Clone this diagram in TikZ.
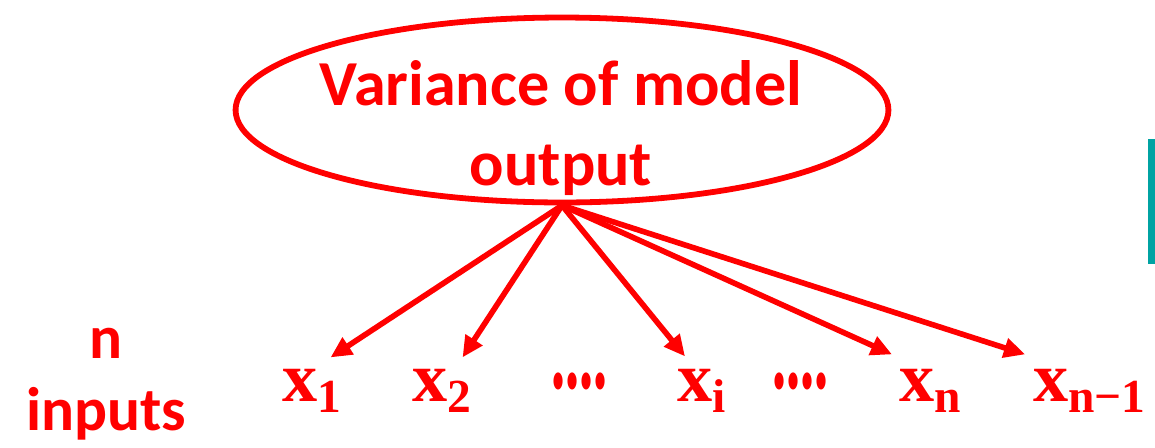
\documentclass[tikz,border=0pt]{standalone}
\usepackage{fontspec}
\usepackage{graphicx}
\setmainfont{Carlito}
\newfontfamily\labfont{Liberation Serif}
\usetikzlibrary{calc, positioning, shapes.geometric, arrows.meta}
\definecolor{outred}{RGB}{255,0,0}
\definecolor{barteal}{RGB}{0,163,163}
\newcommand{\xlab}[1]{x\raisebox{-6.8pt}{\fontsize{27}{27}\selectfont #1}}
\newcommand{\vdotsrow}{\raisebox{7.4pt}{\scalebox{0.8}[1.5]{....}}}

\begin{document}
\begin{tikzpicture}[x=0.02cm, y=-0.02cm,
  outbox/.style={ellipse, draw=outred, line width=3.3pt,
    minimum width=13.06cm, minimum height=3.7cm, inner sep=0pt},
  outtext/.style={text=outred, font=\fontsize{36.5}{45.5}\selectfont\bfseries,
    align=center, inner sep=0pt},
  inlab/.style={text=outred, font=\labfont\fontsize{40}{40}\selectfont\bfseries,
    inner sep=0pt, anchor=base west},
  arr/.style={draw=outred, line width=3.2pt, -{Triangle[length=12pt, width=11pt]}}]
\useasboundingbox (0,0) rectangle (1155,447);

% model output
\node[outbox] (out) at (562,110) {};
\node[outtext] (outlbl) at (561,128) {Variance of model\\output};

% inputs
\node[outtext, font=\fontsize{35}{41}\selectfont\bfseries] (ninp) at (106,384) {n\\inputs};
\node[inlab] (x1) at (282,401) {\xlab{1}};
\node[inlab] (x2) at (412,401) {\xlab{2}};
\node[inlab] (dots1) at (551,401) {\vdotsrow};
\node[inlab] (xi) at (677,401) {\xlab{i}};
\node[inlab] (dots2) at (772,401) {\vdotsrow};
\node[inlab] (xn) at (899,401) {\xlab{n}};
\node[inlab] (xnm) at (1033,401) {\xlab{n−1}};

\draw[arr] (out.south) -- ($(x1.north east)+(-11,-11)$);
\draw[arr] (out.south) -- ($(x2.north east)+(-9,-11)$);
\draw[arr] (out.south) -- ($(xi.north west)+(8,-12)$);
\draw[arr] (out.south) -- ($(xn.north west)+(-7,-14)$);
\draw[arr] (out.south) -- ($(xnm.north west)+(-8,-14)$);

% side bar
\fill[barteal] (1148,139) rectangle (1155,264);
\end{tikzpicture}
\end{document}
